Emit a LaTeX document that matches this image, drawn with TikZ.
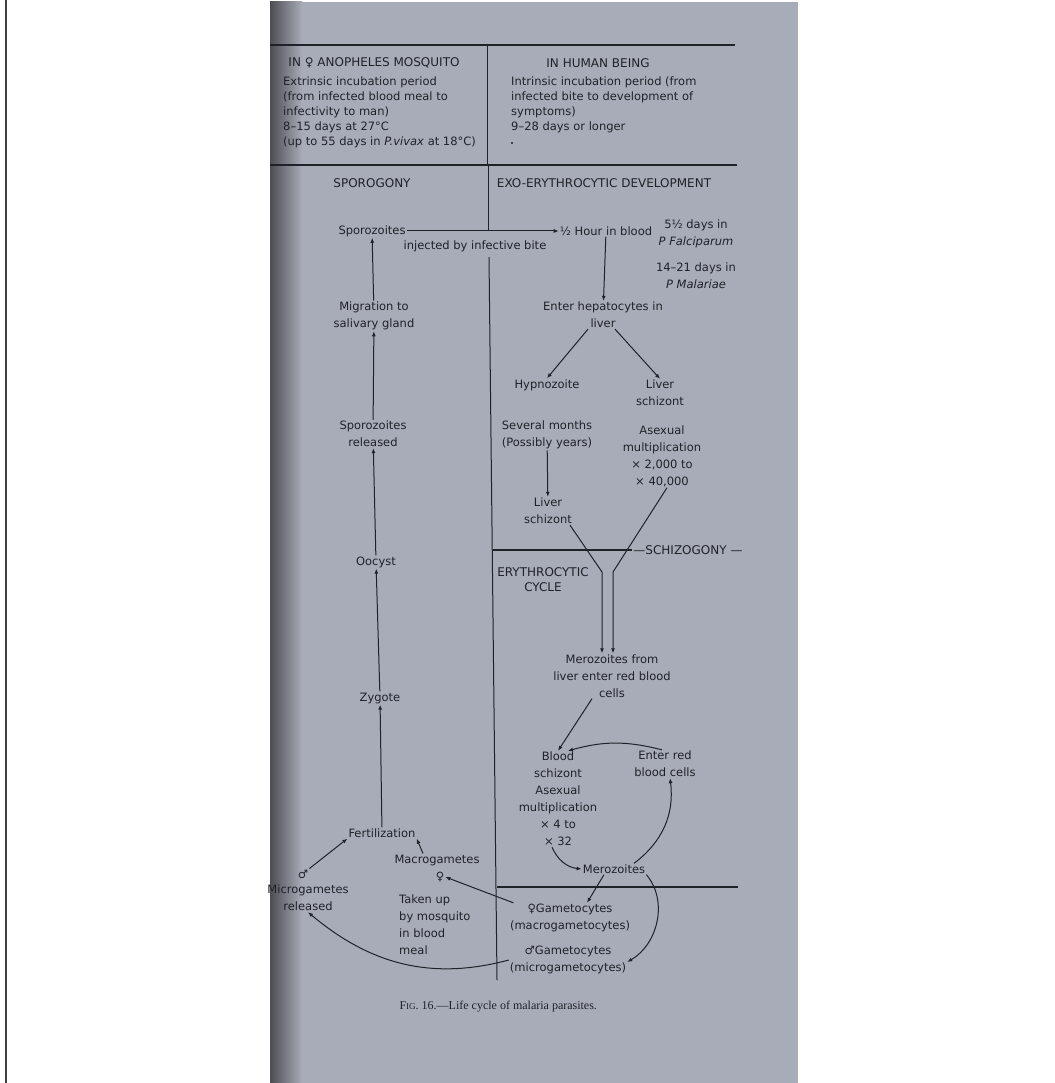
\documentclass[tikz,border=0pt]{standalone}
\usepackage{fontspec}
\setmainfont{DejaVu Sans}
\newfontfamily\symfont{DejaVu Sans}
\newfontfamily\capfont{Liberation Serif}
\usetikzlibrary{arrows.meta}
\definecolor{pagebg}{RGB}{168,172,184}
\definecolor{ink}{RGB}{32,34,42}
\newcommand\femsym{{\symfont ♀}}
\newcommand\malsym{{\symfont ♂}}
\tikzset{
  txt/.style={inner sep=1pt,align=center,text=ink,font=\fontsize{11.5}{17}\selectfont},
  hdr/.style={txt,font=\fontsize{11.5}{15}\selectfont},
  caps/.style={txt,font=\fontsize{12}{15}\selectfont},
  rule/.style={draw=ink,line width=1.4pt},
  divider/.style={draw=ink,line width=1pt},
  arr/.style={->,draw=ink,line width=1pt}
}
\begin{document}
\begin{tikzpicture}[x=1pt,y=-1pt,>={Latex[length=5pt,width=4pt]}]
\useasboundingbox (0,0) rectangle (1054,1083);
% page
\fill[white] (0,0) rectangle (1054,1083);
\draw[black!75,line width=1.5pt] (6,0) -- (6,1083);
\fill[pagebg] (270,2) rectangle (798,1083);
\shade[left color=pagebg!45!black,right color=pagebg] (270,2) rectangle (302,1083);
% rules
\draw[rule] (270,45) -- (735,45);
\draw[rule] (270,165) -- (737,165);
\draw[divider] (487,45) -- (487,165);
\draw[divider] (488,165) -- (488,231);
\draw[divider] (489,257) -- (497,980);
\draw[rule] (497,887) -- (738,887);
% header left
\node[caps] (mosq) at (374,63) {IN \femsym\ ANOPHELES MOSQUITO};
\node[hdr,align=left,anchor=west] (extr) at (282,112) {Extrinsic incubation period\\(from infected blood meal to\\infectivity to man)\\8–15 days at 27°C\\(up to 55 days in \emph{P.vivax} at 18°C)};
% header right
\node[caps] (human) at (598,63) {IN HUMAN BEING};
\node[hdr,align=left,anchor=west] (intr) at (510,104.5) {Intrinsic incubation period (from\\infected bite to development of\\symptoms)\\9–28 days or longer};
\fill[ink] (512,143) circle (1.2);
\node[caps] (sporog) at (372,183) {SPOROGONY};
\node[caps] (exo) at (604,183) {EXO-ERYTHROCYTIC DEVELOPMENT};
% sporogony column
\node[txt] (spz) at (372,231) {Sporozoites};
\node[txt] (migr) at (374,316) {Migration to\\salivary gland};
\node[txt] (spzrel) at (373,434) {Sporozoites\\released};
\node[txt] (oocyst) at (376,562) {Oocyst};
\node[txt] (zyg) at (380,698) {Zygote};
\node[txt] (fert) at (382,833) {Fertilization};
\node[txt] (msym) at (303,874) {\malsym};
\node[txt] (micro) at (308,898) {Microgametes\\released};
\node[txt] (macro) at (437,860) {Macrogametes};
\node[txt] (fsym) at (440,877) {\femsym};
\node[txt,align=left,anchor=west] (taken) at (398,925) {Taken up\\by mosquito\\in blood\\meal};
% exo-erythrocytic column
\node[txt] (halfhr) at (606,231) {½ Hour in blood};
\node[txt] (bite) at (475,246) {injected by infective bite};
\node[txt] (days1) at (696,234) {5½ days in\\\emph{P Falciparum}};
\node[txt] (days2) at (696,276) {14–21 days in\\\emph{P Malariae}};
\node[txt] (hep) at (603,315) {Enter hepatocytes in\\liver};
\node[txt] (hypno) at (547,385) {Hypnozoite};
\node[txt] (lschz) at (660,393) {Liver\\schizont};
\node[txt] (sevm) at (547,435) {Several months\\(Possibly years)};
\node[txt] (asex) at (662,456) {Asexual\\multiplication\\× 2,000 to\\× 40,000};
\node[txt] (lschz2) at (548,511) {Liver\\schizont};
\node[caps] (schizo) at (688,550) {—SCHIZOGONY —};
\draw[rule] (493,550) -- (schizo.west);
% erythrocytic cycle
\node[caps] (erycyc) at (543,580) {ERYTHROCYTIC\\CYCLE};
\node[txt] (merliv) at (612,676) {Merozoites from\\liver enter red blood\\cells};
\node[txt] (bschz) at (558,799) {Blood\\schizont\\Asexual\\multiplication\\× 4 to\\× 32};
\node[txt] (enterrbc) at (665,764) {Enter red\\blood cells};
\node[txt] (mero) at (614,869) {Merozoites};
\node[txt] (fgam) at (570,918) {\femsym Gametocytes\\(macrogametocytes)};
\node[txt] (mgam) at (568,960) {\malsym Gametocytes\\(microgametocytes)};
\node[anchor=west,text=ink,font=\capfont\fontsize{12}{14}\selectfont] (caption) at (396,1007) {F{\fontsize{9}{10}\selectfont IG}. 16.—Life cycle of malaria parasites.};
\coordinate (kneeL) at (602,572);
\coordinate (kneeR) at (613,572);
% arrows sporogony
\draw[arr] (migr) -- (spz);
\draw[arr] (spzrel) -- (migr);
\draw[arr] (oocyst) -- (spzrel);
\draw[arr] (zyg) -- (oocyst);
\draw[arr] (fert) -- (zyg);
\draw[arr] (msym.north east) -- (fert.south west);
\draw[arr] ([xshift=-14pt]macro.north) -- (fert.south east);
% arrows exo-erythrocytic
\draw[arr] (spz.east) -- (halfhr.west);
\draw[arr] (halfhr) -- (hep);
\draw[arr] ([xshift=-15pt]hep.south) -- (hypno.north);
\draw[arr] ([xshift=12pt]hep.south) -- (lschz.north);
\draw[arr] (sevm) -- (lschz2);
\draw[arr] ([xshift=22pt]lschz2.south) -- (kneeL) -- (kneeL |- merliv.north);
\draw[arr] ([xshift=5pt]asex.south) -- (kneeR) -- (kneeR |- merliv.north);
% arrows erythrocytic cycle
\draw[arr] ([xshift=-20pt]merliv.south) -- (bschz.north);
\draw[arr] ([xshift=-3pt]enterrbc.north) to[bend right=15] ([xshift=10pt]bschz.north);
\draw[arr] ([xshift=-6pt]bschz.south) to[bend right=30] (mero.west);
\draw[arr] ([xshift=20pt]mero.north) to[bend right=30] ([xshift=5pt]enterrbc.south);
\draw[arr] ([xshift=-10pt]mero.south) -- ([xshift=17pt]fgam.north);
\draw[arr] (mero.south east) to[out=-50,in=30] ([yshift=-2pt]mgam.east);
\draw[arr] (fgam.165) -- (fsym.east);
\draw[arr] (mgam.west) to[out=195,in=-40] (micro.south);
\end{tikzpicture}
\end{document}
